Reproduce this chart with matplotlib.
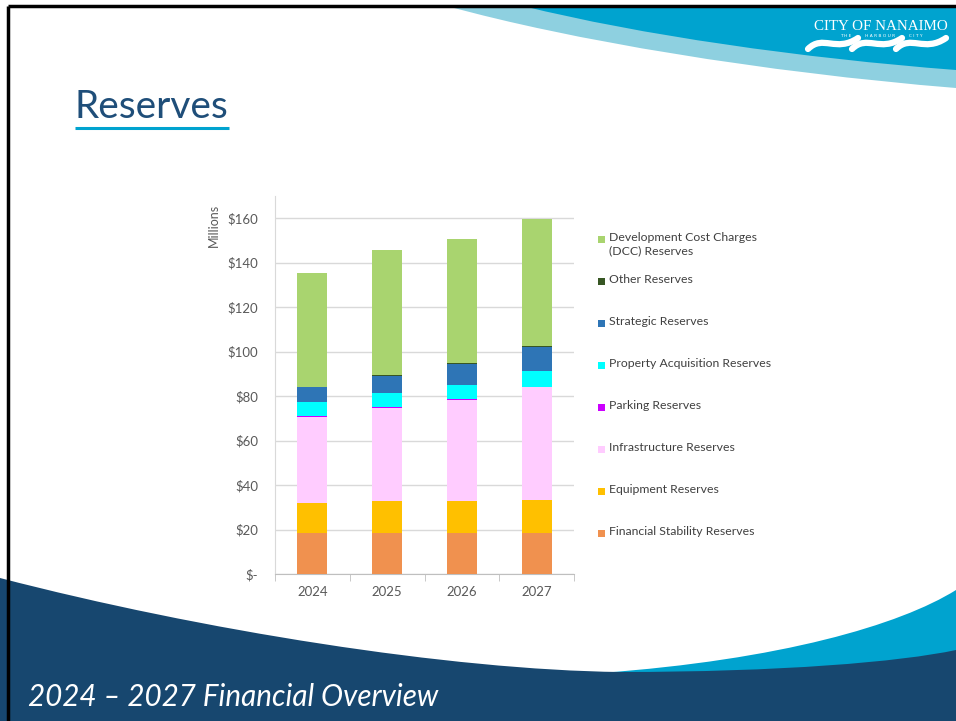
import matplotlib.pyplot as plt
from matplotlib.path import Path
from matplotlib.patches import PathPatch, Rectangle
import numpy as np

years = ['2024', '2025', '2026', '2027']

# $ millions, stacked bottom -> top
financial_stability = [18.4, 18.4, 18.4, 18.4]
equipment = [13.4, 14.3, 14.6, 14.9]
infrastructure = [38.7, 42.0, 45.2, 50.7]
parking = [0.5, 0.3, 0.3, 0.3]
property_acquisition = [6.3, 6.5, 6.7, 6.9]
strategic = [6.6, 7.7, 9.3, 10.9]
other = [0.4, 0.3, 0.6, 0.4]
dcc = [51.0, 56.1, 55.7, 57.3]

series = [
    ('Financial Stability Reserves', financial_stability, '#F0914F'),
    ('Equipment Reserves', equipment, '#FFC000'),
    ('Infrastructure Reserves', infrastructure, '#FFCCFF'),
    ('Parking Reserves', parking, '#CC00FF'),
    ('Property Acquisition Reserves', property_acquisition, '#00FFFF'),
    ('Strategic Reserves', strategic, '#2E75B6'),
    ('Other Reserves', other, '#375623'),
    ('Development Cost Charges\n(DCC) Reserves', dcc, '#A9D46F'),
]

NAVY = '#17476F'
CYAN = '#00A3CF'
LIGHT = '#8ED0E0'

plt.rcParams['font.family'] = ['Lato', 'DejaVu Sans']

fig = plt.figure(figsize=(9.56, 7.21), dpi=100)

# slide background, drawn in pixel coordinates
bg = fig.add_axes([0, 0, 1, 1])
bg.set_xlim(0, 956)
bg.set_ylim(721, 0)
bg.axis('off')

def shape(verts, codes, color):
    bg.add_patch(PathPatch(Path(verts, codes), facecolor=color, edgecolor='none'))

M, L, C, Z = Path.MOVETO, Path.LINETO, Path.CURVE4, Path.CLOSEPOLY

# top swoosh
shape([(447, 6), (956, 6), (956, 88), (760, 72), (570, 40), (447, 6), (447, 6)],
      [M, L, L, C, C, C, Z], LIGHT)
shape([(523, 6), (956, 6), (956, 70), (800, 58), (640, 35), (523, 6), (523, 6)],
      [M, L, L, C, C, C, Z], CYAN)

# bottom waves
shape([(600, 673), (780, 660), (900, 625), (956, 590), (956, 721), (600, 721), (600, 673)],
      [M, C, C, C, L, L, Z], CYAN)
shape([(0, 578), (200, 630), (450, 670), (620, 672), (780, 672), (900, 662), (956, 650),
       (956, 721), (0, 721), (0, 578)],
      [M, C, C, C, C, C, C, L, L, Z], NAVY)

# slide border
bg.plot([8, 956], [6, 6], color='black', lw=2.5, solid_capstyle='butt')
bg.plot([8, 8], [6, 721], color='black', lw=2.5, solid_capstyle='butt')

# logo
bg.text(881, 30, 'CITY OF NANAIMO', color='white', fontsize=10.8,
        family='Liberation Serif', ha='center', va='baseline')
bg.text(881, 37, 'T H E          H A R B O U R          C I T Y', color='white',
        fontsize=3.2, family='DejaVu Sans', ha='center', va='baseline')
for wx in [808, 852, 896]:
    w = [(wx, 49), (wx + 15, 34), (wx + 28, 53), (wx + 50, 38)]
    bg.add_patch(PathPatch(Path(w, [M, C, C, C]), facecolor='none',
                           edgecolor='white', lw=4.5, capstyle='round'))

# title
bg.text(75, 118, 'Reserves', color='#1F4E79', fontsize=28, va='baseline', ha='left')
bg.plot([75, 229], [128, 128], color=CYAN, lw=2.2, solid_capstyle='butt')

# footer
bg.text(28, 706, '2024 \u2013 2027 Financial Overview', color='white', fontsize=21.3,
        style='italic', va='baseline', ha='left')

# chart
ax = fig.add_axes([275 / 956, 1 - 574 / 721, 299 / 956, 378 / 721])
ax.patch.set_visible(False)
x = np.arange(len(years))
bottom = np.zeros(len(years))
for name, vals, color in series:
    ax.bar(x, vals, width=0.4, bottom=bottom, color=color, zorder=3)
    bottom += np.array(vals)

ax.set_xlim(-0.5, 3.5)
ax.set_ylim(0, 170)
ax.set_yticks(np.arange(0, 161, 20))
ax.set_yticklabels(['$-'] + [f'${v}' for v in range(20, 161, 20)])
ax.set_xticks(x)
ax.set_xticklabels(years)
ax.set_xticks(np.arange(-0.5, 3.6, 1), minor=True)
ax.grid(axis='y', color='#D9D9D9', lw=1, zorder=0)
ax.tick_params(axis='y', length=0, pad=12, labelsize=9.5, labelcolor='#595959')
ax.tick_params(axis='x', which='major', length=0, pad=9, labelsize=9.5, labelcolor='#595959')
ax.tick_params(axis='x', which='minor', length=5, color='#BFBFBF')
for s in ['top', 'right']:
    ax.spines[s].set_visible(False)
ax.spines['left'].set_color('#D9D9D9')
ax.spines['bottom'].set_color('#BFBFBF')

fig.text(214 / 956, 1 - 225 / 721, 'Millions', rotation=90, ha='center', va='center',
         fontsize=9, color='#595959')

# legend (top entry first)
legend_y = [239] + [281 + 42 * i for i in range(7)]
for (name, vals, color), ly in zip(series[::-1], legend_y):
    bg.add_patch(Rectangle((598, ly - 3.5), 7, 7, facecolor=color, edgecolor='none'))
    bg.text(609, ly - 7, name, fontsize=8.8, color='#404040', va='top', ha='left',
            linespacing=1.3)

fig.savefig('out.png', dpi=100)
